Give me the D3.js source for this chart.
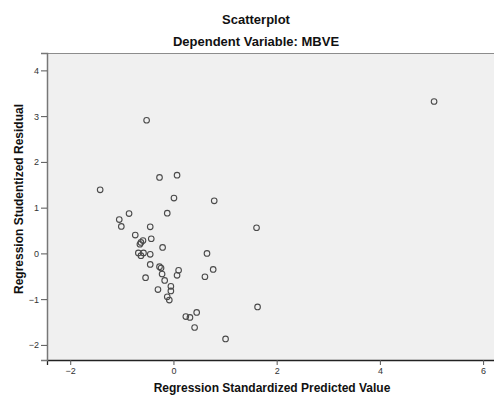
<!DOCTYPE html>
<html>
<head>
<meta charset="utf-8">
<script src="https://cdn.jsdelivr.net/npm/d3@7"></script>
<style>
  body { margin: 0; background: #fff; }
  svg { display: block; font-family: "Liberation Sans", Arial, sans-serif; }
</style>
</head>
<body>
<div id="chart"></div>
<script>
// Regression standardized predicted value (x) vs studentized residual (y)
const predicted = [
  5.05, 0.79, 1.61, 0.65, 0.77, 0.61, 1.63, 1.01,
  -0.52, -0.27, 0.07, -1.42, 0.01, -0.86, -0.12,
  -1.05, -1.01, -0.45, -0.74, -0.43, -0.59, -0.63, -0.65, -0.21,
  -0.68, -0.58, -0.63, -0.45, -0.45, -0.27, -0.24, 0.10,
  -0.22, 0.07, -0.54, -0.17, -0.05, -0.05, -0.30, -0.12, -0.08,
  0.45, 0.24, 0.32, 0.41
];
const residual = [
  3.32, 1.15, 0.56, 0.00, -0.35, -0.51, -1.17, -1.87,
  2.91, 1.66, 1.71, 1.39, 1.21, 0.87, 0.88,
  0.74, 0.59, 0.58, 0.40, 0.32, 0.28, 0.24, 0.20, 0.13,
  0.01, 0.01, -0.05, -0.02, -0.24, -0.29, -0.32, -0.37,
  -0.45, -0.48, -0.53, -0.59, -0.72, -0.82, -0.79, -0.95, -1.02,
  -1.29, -1.38, -1.40, -1.62
];
const xTicks = [-2, 0, 2, 4, 6];
const yTicks = [-2, -1, 0, 1, 2, 3, 4];

const width = 494, height = 396;
const plot = { left: 47, right: 496, top: 53, bottom: 360 };

const svg = d3.select("#chart").append("svg")
  .attr("width", width)
  .attr("height", height);

const x = d3.scaleLinear().domain([-2.45, 6.25]).range([plot.left, plot.right]);
const y = d3.scaleLinear().domain([-2.33, 4.38]).range([plot.bottom, plot.top]);

// plot background
svg.append("rect")
  .attr("x", plot.left)
  .attr("y", plot.top)
  .attr("width", plot.right - plot.left)
  .attr("height", plot.bottom - plot.top)
  .attr("fill", "#f0f0f0");

svg.append("line")
  .attr("x1", plot.left).attr("x2", plot.right)
  .attr("y1", plot.top + 0.5).attr("y2", plot.top + 0.5)
  .attr("stroke", "#8c8c8c")
  .attr("stroke-width", 1.2);

// axes
const xAxis = svg.append("g")
  .attr("transform", `translate(0,${plot.bottom})`)
  .call(d3.axisBottom(x).tickValues(xTicks).tickSize(5).tickPadding(3).tickFormat(d3.format("d")));
xAxis.select(".domain").attr("stroke", "#222").attr("stroke-width", 1.3);

const yAxis = svg.append("g")
  .attr("transform", `translate(${plot.left},0)`)
  .call(d3.axisLeft(y).tickValues(yTicks).tickSize(6).tickPadding(2).tickFormat(d3.format("d")));
yAxis.select(".domain").attr("stroke", "#777").attr("stroke-width", 1.5);

svg.selectAll(".tick line").attr("stroke", "#555");
svg.selectAll(".tick text")
  .attr("fill", "#333")
  .style("font-size", "9px")
  .style("font-family", "\"Liberation Sans\", Arial, sans-serif");

// points
svg.append("g")
  .selectAll("circle")
  .data(predicted.map((p, i) => ({ x: p, y: residual[i] })))
  .enter().append("circle")
    .attr("cx", d => x(d.x))
    .attr("cy", d => y(d.y))
    .attr("r", 2.8)
    .attr("fill", "none")
    .attr("stroke", "#4a4a4a")
    .attr("stroke-width", 1.1);

// titles
svg.append("text")
  .attr("x", 256).attr("y", 24)
  .attr("text-anchor", "middle")
  .style("font-size", "13px").style("font-weight", "bold")
  .attr("fill", "#111")
  .text("Scatterplot");

svg.append("text")
  .attr("x", 256).attr("y", 46)
  .attr("text-anchor", "middle")
  .style("font-size", "13px").style("font-weight", "bold")
  .attr("fill", "#111")
  .text("Dependent Variable: MBVE");

svg.append("text")
  .attr("x", 272).attr("y", 392)
  .attr("text-anchor", "middle")
  .style("font-size", "12px").style("font-weight", "bold")
  .attr("fill", "#111")
  .text("Regression Standardized Predicted Value");

svg.append("text")
  .attr("transform", "translate(23,199) rotate(-90)")
  .attr("text-anchor", "middle")
  .style("font-size", "12px").style("font-weight", "bold")
  .attr("fill", "#111")
  .text("Regression Studentized Residual");
</script>
</body>
</html>
